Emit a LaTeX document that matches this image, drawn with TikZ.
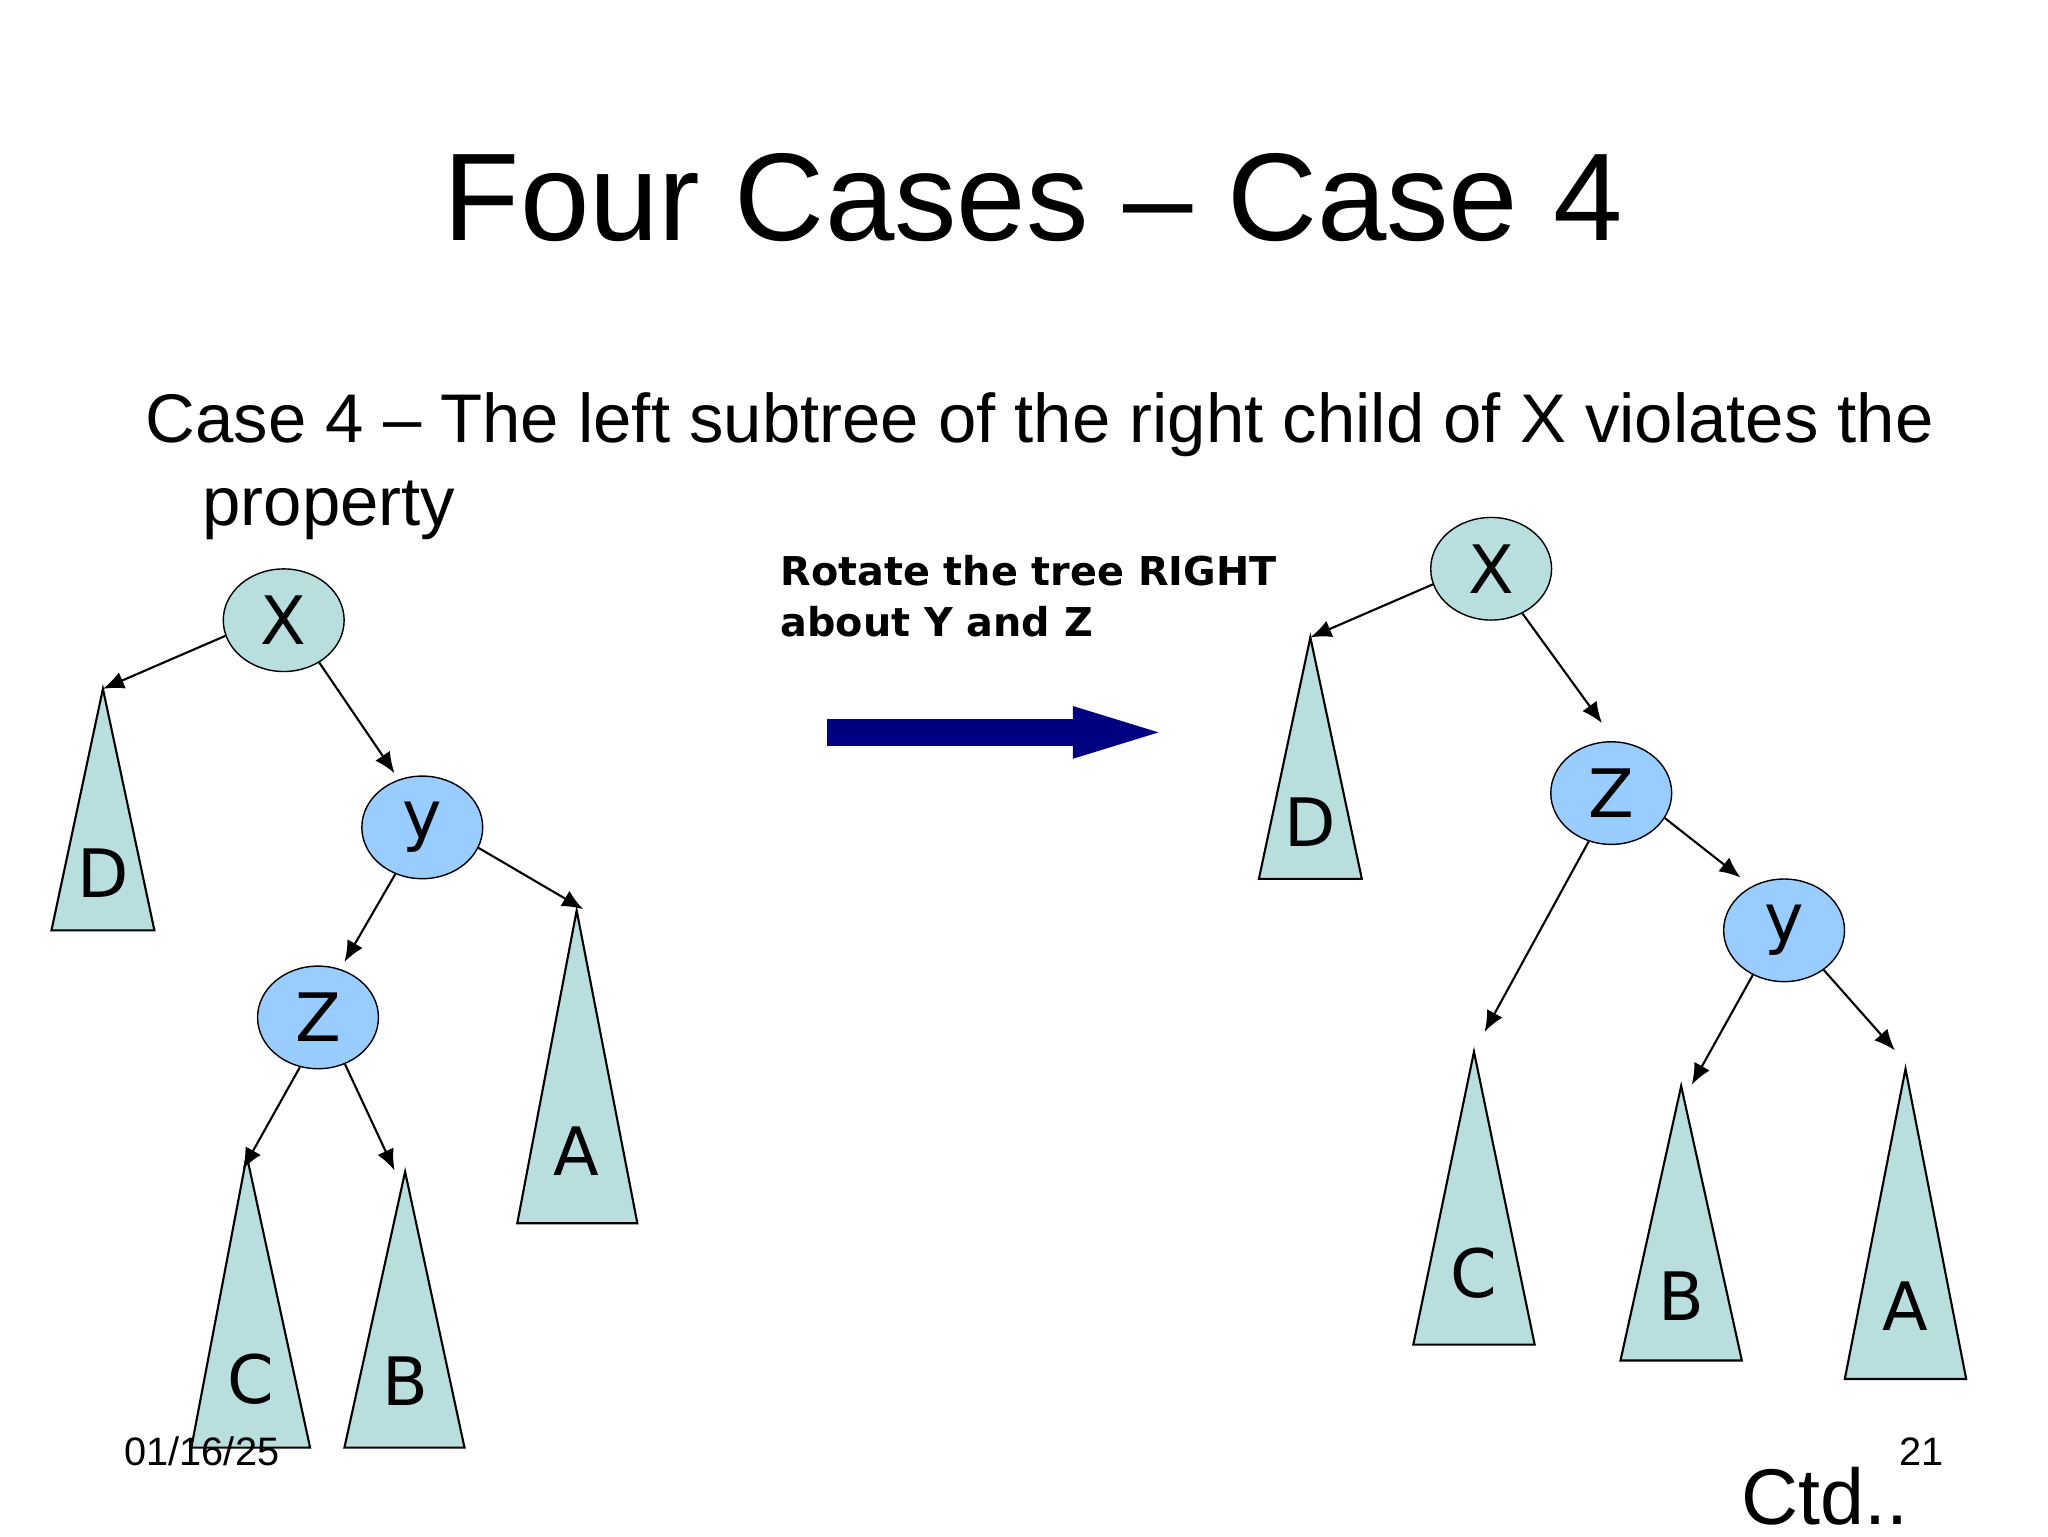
\documentclass[tikz,border=0pt]{standalone}
\usepackage{fontspec}
\setmainfont{Liberation Sans}
\newfontfamily\vfont{DejaVu Sans}
\usetikzlibrary{arrows.meta,shapes.geometric}
\definecolor{teal1}{RGB}{184,222,222}
\definecolor{blue1}{RGB}{153,204,255}
\definecolor{navy1}{RGB}{0,0,128}
\tikzset{
  circ/.style={ellipse,draw,minimum width=34.4pt,minimum height=29.2pt,inner sep=0pt,font=\vfont\fontsize{19}{19}\selectfont},
  tri/.style={draw,fill=teal1,line width=0.6pt},
  lab/.style={font=\vfont\fontsize{19}{19}\selectfont},
  edge/.style={-{Latex[length=6pt,width=5pt]},line width=0.6pt}
}
\begin{document}
\begin{tikzpicture}[x=0.013196cm,y=-0.013196cm]
\useasboundingbox (0,0) rectangle (1552,1164);
\node[font=\fontsize{35.5}{35.5}\selectfont] (title) at (783,150) {Four Cases -- Case 4};
\node[anchor=base west,font=\fontsize{19.6}{19.6}\selectfont,inner sep=0] (sub1) at (110,335) {Case 4 -- The left subtree of the right child of X violates the};
\node[anchor=base west,font=\fontsize{19.6}{19.6}\selectfont,inner sep=0] (sub2) at (153,398) {property};
\node[anchor=north west,align=left,inner sep=0,font=\vfont\bfseries\fontsize{11.3}{14.5}\selectfont] (rot) at (591,420) {Rotate the tree RIGHT\\about Y and Z};
\fill[navy1] (627,545) rectangle (814,565);
\fill[navy1] (813,535) -- (878,555) -- (813,575) -- cycle;
% left tree
\node[circ,fill=teal1] (X) at (215,470) {X};
\node[circ,fill=blue1] (y) at (320,627) {y};
\node[circ,fill=blue1] (Z) at (241,771) {Z};
\coordinate (Dt) at (78,522); \draw[tri] (Dt) -- (117,705) -- (39,705) -- cycle; \node[lab] (D) at (78,662) {D};
\coordinate (At) at (437,690); \draw[tri] (At) -- (483,927) -- (392,927) -- cycle; \node[lab] (A) at (437,872) {A};
\coordinate (Ct) at (187,876); \draw[tri] (Ct) -- (235,1097) -- (145,1097) -- cycle; \node[lab] (C) at (190,1045) {C};
\coordinate (Bt) at (307,888); \draw[tri] (Bt) -- (352,1097) -- (261,1097) -- cycle; \node[lab] (B) at (307,1047) {B};
\draw[edge] (X.195) -- (Dt);
\draw[edge] (X.-50) -- (299,586);
\draw[edge] (y.-120) -- (261,729);
\draw[edge] (y.-20) -- (442,689);
\draw[edge] (Z.-110) -- (184,886);
\draw[edge] (Z.-60) -- (299,887);
% right tree
\node[circ,fill=teal1] (X2) at (1130,431) {X};
\node[circ,fill=blue1] (Z2) at (1221,601) {Z};
\node[circ,fill=blue1] (y2) at (1352,705) {y};
\coordinate (D2t) at (993,483); \draw[tri] (D2t) -- (1032,666) -- (954,666) -- cycle; \node[lab] (D2) at (993,623) {D};
\coordinate (C2t) at (1117,797); \draw[tri] (C2t) -- (1163,1019) -- (1071,1019) -- cycle; \node[lab] (C2) at (1117,965) {C};
\coordinate (B2t) at (1274,823); \draw[tri] (B2t) -- (1320,1031) -- (1228,1031) -- cycle; \node[lab] (B2) at (1274,982) {B};
\coordinate (A2t) at (1444,810); \draw[tri] (A2t) -- (1490,1045) -- (1398,1045) -- cycle; \node[lab] (A2) at (1444,990) {A};
\draw[edge] (X2.195) -- (D2t);
\draw[edge] (X2.-55) -- (1214,548);
\draw[edge] (Z2.-115) -- (1125,782);
\draw[edge] (Z2.-25) -- (1319,665);
\draw[edge] (y2.-125) -- (1282,822);
\draw[edge] (y2.-45) -- (1436,796);
% footer
\node[font=\fontsize{11.3}{11.3}\selectfont] (date) at (153,1100) {01/16/25};
\node[font=\fontsize{11.3}{11.3}\selectfont] (num) at (1456,1100) {21};
\node[font=\fontsize{22.5}{22.5}\selectfont] (ctd) at (1383,1134) {Ctd..};
\end{tikzpicture}
\end{document}
